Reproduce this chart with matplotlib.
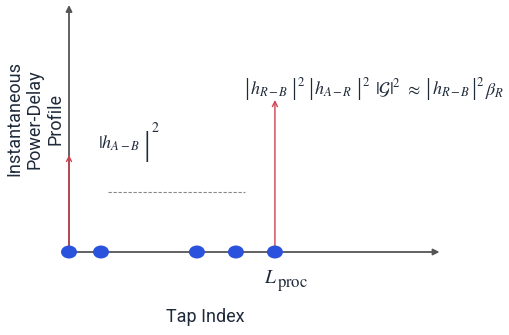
import numpy as np
import matplotlib
matplotlib.use("Agg")
import matplotlib.pyplot as plt
from matplotlib.patches import Ellipse

plt.rcParams['mathtext.fontset'] = 'stix'
plt.rcParams['font.family'] = ['Roboto', 'DejaVu Sans']

# tap positions (tap index units) and the two arrow heights
taps = [0.0, 0.82, 3.28, 4.28, 5.28]
arrow_taps = [0.0, 5.28]
arrow_heights = [0.97, 1.52]
dash_span = [1.0, 4.5]
dash_level = 0.6
x_axis_end = 9.5
y_axis_end = 2.47

text_col = '#1f2a3a'
axis_col = '#555555'
red = '#d0404e'
blue = '#2a52dc'

fig = plt.figure(figsize=(5.10, 3.35), dpi=100)
ax = fig.add_axes([0, 0, 1, 1])
ax.set_xlim(-69 / 39, (510 - 69) / 39)
ax.set_ylim(-0.83, 2.52)
ax.axis('off')

# axes with arrow heads
ax.annotate('', xy=(x_axis_end, 0), xytext=(0, 0),
            arrowprops=dict(arrowstyle='-|>', color=axis_col, lw=1.3,
                            mutation_scale=9, shrinkA=0, shrinkB=0))
ax.annotate('', xy=(0, y_axis_end), xytext=(0, 0),
            arrowprops=dict(arrowstyle='-|>', color=axis_col, lw=1.3,
                            mutation_scale=9, shrinkA=0, shrinkB=0))

# red tap arrows
for x, h in zip(arrow_taps, arrow_heights):
    ax.annotate('', xy=(x, h), xytext=(x, 0),
                arrowprops=dict(arrowstyle='->', color=red, lw=1.0,
                                mutation_scale=9, shrinkA=0, shrinkB=0))

# dashed line
ax.plot(dash_span, [dash_level, dash_level], ls=(0, (3, 1.5)), color='#888888', lw=0.8)

# tap dots (slightly wide ellipses)
for x in taps:
    ax.add_patch(Ellipse((x, 0), 0.41, 0.13, color=blue, zorder=5, lw=0))

# ---- formulas, laid out piece by piece so the bars can be tall ----
renderer = fig.canvas.get_renderer()
W, H = fig.bbox.width, fig.bbox.height


def formula(pieces, xy):
    px, py = ax.transData.transform(xy)
    for p in pieces:
        kind = p[0]
        if kind == 'gap':
            px += p[1]
            continue
        s, fs, dy = p[1], p[2], p[3]
        fam = 'Liberation Serif' if kind == 'bar' else None
        t = fig.text(px / W, (py + dy) / H, s, fontsize=fs, family=fam,
                     color=text_col, ha='left', va='baseline')
        px += t.get_window_extent(renderer).width


BAR = ('bar', '|', 18.5, 0)
SQ = ('m', r'$\mathrm{2}$', 9, 9)

formula([('m', r'$|h_{A-B}$', 13, 0), ('gap', 4), ('bar', '|', 24, -6),
         ('gap', 1), ('m', r'$\mathrm{2}$', 10, 17)], (0.74, 1.03))

formula([BAR, ('gap', 1), ('m', r'$h_{R-B}$', 13, 0), ('gap', 3), BAR, ('gap', 1), SQ,
         ('gap', 3), BAR, ('gap', 1), ('m', r'$h_{A-R}$', 13, 0), ('gap', 4), BAR,
         ('gap', 0), SQ, ('gap', 5), ('m', r'$|\mathcal{G}|^2$', 13, 0), ('gap', 5),
         ('m', r'$\approx$', 13, 0), ('gap', 4), BAR, ('gap', 1),
         ('m', r'$h_{R-B}$', 13, 0), ('gap', 1), BAR, ('gap', 0), SQ, ('gap', 1),
         ('m', r'$\beta_R$', 13, 0)], (4.48, 1.57))

formula([('m', r'$L$', 14, 0), ('m', r'$\mathrm{proc}$', 12, -4)], (5.0, -0.31))

ax.text(3.49, -0.65, 'Tap Index', fontsize=13, color=text_col, ha='center', va='center')
ax.text(-0.88, 1.33, 'Instantaneous\nPower-Delay\nProfile', fontsize=13,
        color=text_col, ha='center', va='center', rotation=90, linespacing=1.2)

fig.savefig('out.png', dpi=100)
